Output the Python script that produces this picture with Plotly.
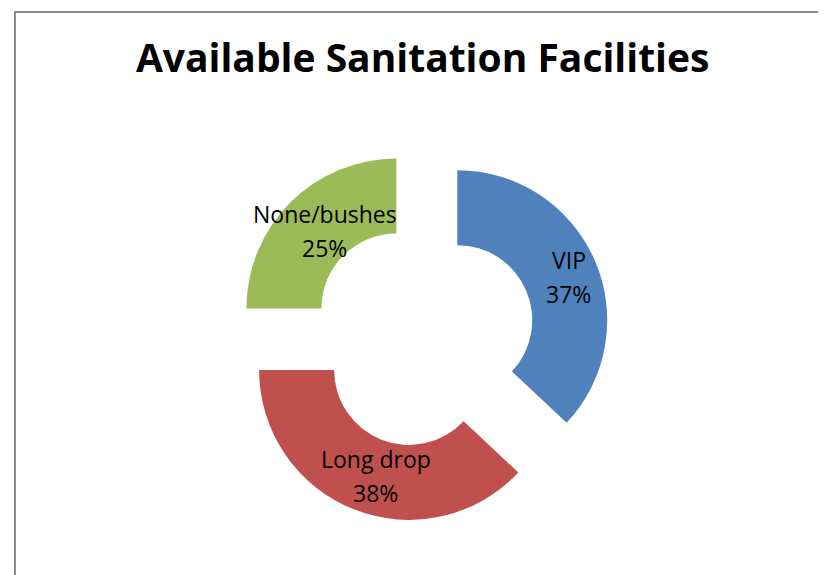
import math
import plotly.graph_objects as go

# Sanitation facilities share (percent)
facilities = ["VIP", "Long drop", "None/bushes"]
shares = [37, 38, 25]
slice_colors = ["#4F81BD", "#C0504D", "#9BBB59"]

W, H = 826, 575
PULL = 0.25
HOLE = 0.5

fig = go.Figure(go.Pie(
    labels=facilities,
    values=shares,
    hole=HOLE,
    sort=False,
    direction="clockwise",
    rotation=0,
    pull=[PULL] * len(shares),
    marker=dict(colors=slice_colors, line=dict(width=0)),
    textinfo="none",
    domain=dict(x=[0.2752, 0.7293], y=[0.1052, 0.7572]),
    showlegend=False,
    hoverinfo="label+percent",
))

# data labels in the middle of each (pulled) ring segment, like Excel does
cx, cy, r = 423, 329, 150          # label centre (px, text baseline tweak) / outer radius
line_gap = 17                      # half distance between the two label lines
label_font = dict(family="Open Sans", size=23, color="#000000")
total = sum(shares)
labels = []
start = 0.0
for name, v in zip(facilities, shares):
    mid = math.radians((start + v / 2) / total * 360)
    start += v
    dist = r * PULL + r * (1 + HOLE) / 2
    px = cx + dist * math.sin(mid)
    py = cy - dist * math.cos(mid)
    for txt, dy in [(name, -line_gap), (f"{v / total * 100:.0f}%", line_gap)]:
        labels.append(dict(
            text=txt,
            x=px / W, y=1 - (py + dy) / H, xref="paper", yref="paper",
            xanchor="center", yanchor="middle", showarrow=False,
            font=label_font,
        ))

fig.update_layout(
    title=dict(
        text="<b>Available Sanitation Facilities</b>",
        x=0.502, xanchor="center",
        y=1 - 50 / H, yanchor="middle", yref="container",
        font=dict(family="Open Sans", size=39, color="#000000"),
    ),
    annotations=labels,
    paper_bgcolor="#ffffff",
    plot_bgcolor="#ffffff",
    width=W,
    height=H,
    margin=dict(l=0, r=0, t=0, b=0),
    shapes=[dict(
        type="rect", xref="paper", yref="paper",
        x0=7 / W, x1=1.05, y0=-0.05, y1=1 - 4 / H,
        line=dict(color="#8c8c8c", width=2),
        fillcolor="rgba(0,0,0,0)",
    )],
)

fig.write_html("out.html")
